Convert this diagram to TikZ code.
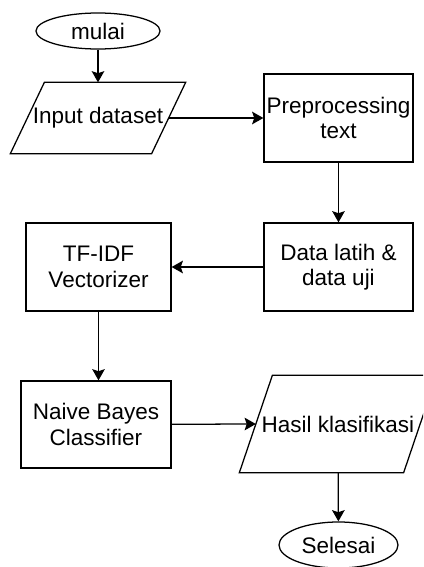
\documentclass[tikz,border=0pt]{standalone}
\usepackage{fontspec}
\setmainfont{Liberation Sans}
\usetikzlibrary{shapes.geometric,arrows.meta}

\begin{document}
\begin{tikzpicture}[x=0.025cm, y=-0.025cm,  % one unit is one pixel, y runs down
    font=\fontsize{16}{18}\selectfont,
    line width=0.9pt,
    prosesbox/.style={draw, rectangle, align=center, minimum height=2.2cm, inner sep=1pt},
    terminal/.style={draw, ellipse, inner sep=0pt},
    iobox/.style={rectangle, inner sep=0pt},
    panah/.style={-{Stealth[length=8pt, width=9pt, inset=1.5pt]}}]
    % Fix the page size
    \clip (0,0) rectangle (423,567);

    % Draw start and end
    \node[terminal, minimum width=3.1cm, minimum height=0.9cm] (mulai) at (98,31) {mulai};
    \node[terminal, minimum width=2.975cm, minimum height=1.15cm] (selesai) at (338.5,545) {Selesai};

    % Draw input and output (parallelograms round the text)
    \node[iobox, minimum width=4.35cm, minimum height=1.75cm] (input) at (98,118) {Input dataset};
    \draw ([xshift=0.85cm]input.north west) -- (input.north east)
        -- ([xshift=-0.85cm]input.south east) -- (input.south west) -- cycle;
    \node[iobox, minimum width=4.9cm, minimum height=2.4cm] (hasil) at (338,424) {Hasil klasifikasi};
    \draw ([xshift=0.825cm]hasil.north west) -- (hasil.north east)
        -- ([xshift=-0.825cm]hasil.south east) -- (hasil.south west) -- cycle;
    \coordinate (inputkanan) at ([xshift=-0.425cm]input.east);
    \coordinate (hasilkiri) at ([xshift=0.4125cm]hasil.west);

    % Draw process steps
    \node[prosesbox, minimum width=3.725cm] (prepro) at (338.5,118) {Preprocessing\\text};
    \node[prosesbox, minimum width=3.725cm] (data) at (338.5,267) {Data latih \&\\data uji};
    \node[prosesbox, minimum width=3.625cm] (tfidf) at (98.5,267) {TF-IDF\\Vectorizer};
    \node[prosesbox, minimum width=3.75cm, minimum height=2.175cm] (naive) at (96,424.5) {Naive Bayes\\Classifier};

    % Draw arrows
    \draw[panah] (mulai) -- (input);
    \draw[panah] (inputkanan) -- (prepro);
    \draw[panah] (prepro) -- (data);
    \draw[panah] (data) -- (tfidf);
    \draw[panah] (tfidf.south) -- (tfidf.south |- naive.north);
    \draw[panah] (naive) -- (hasilkiri);
    \draw[panah] (hasil) -- (selesai);

\end{tikzpicture}
\end{document}
